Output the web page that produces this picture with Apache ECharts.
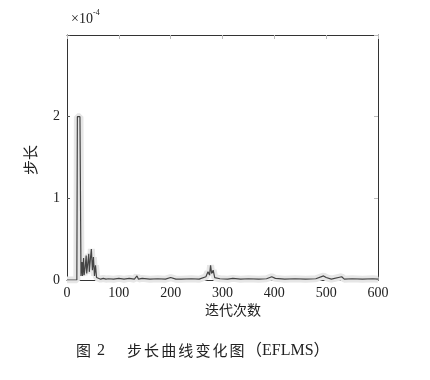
<!DOCTYPE html>
<html><head><meta charset="utf-8">
<script src="https://cdn.jsdelivr.net/npm/echarts@6/dist/echarts.min.js"></script>
<style>html,body{margin:0;padding:0;background:#fff}#c{width:430px;height:380px}</style>
</head><body><div id="c"></div>
<script>
// iteration numbers and step size (×10^-4)
const iterations = [0,19,20,22,25,26,27,29,30,32,33,35,37,38,40,42,43,45,47,49,51,53,55,57,60,65,70,75,80,90,100,110,120,130,135,138,145,160,175,190,200,210,220,240,255,268,272,275,277,279,282,285,295,310,320,335,350,370,385,395,398,402,420,440,460,480,495,500,510,530,535,550,570,590,600];
const stepSize = [0,0,2.0,1.98,2.0,2.0,0.05,0.22,0.05,0.27,0.06,0.15,0.3,0.08,0.2,0.32,0.1,0.25,0.38,0.12,0.28,0.05,0.18,0.03,0.05,0.01,0.02,0.01,0.015,0.01,0.02,0.01,0.02,0.01,0.05,0.01,0.02,0.01,0.015,0.01,0.03,0.01,0.01,0.015,0.01,0.04,0.1,0.06,0.18,0.08,0.12,0.03,0.015,0.01,0.02,0.01,0.015,0.01,0.015,0.04,0.06,0.02,0.01,0.015,0.01,0.015,0.05,0.03,0.01,0.04,0.01,0.015,0.01,0.015,0.01];
const xTicks = [0,100,200,300,400,500,600];
const yTickLabels = ['0','1','2'];

const pts = iterations.map((x,i)=>[x,stepSize[i]]);
const serif = '"Liberation Serif","DejaVu Serif","Noto Sans CJK SC",serif';
const cjk = '"Noto Sans CJK SC","Liberation Serif",serif';
const chart = echarts.init(document.getElementById('c'));

const caption = [];
caption.push({type:'text',left:76,top:343,style:{text:'图',font:'15px '+cjk,fill:'#222'}});
caption.push({type:'text',left:97,top:343,style:{text:'2',font:'16px '+serif,fill:'#222'}});
'步长曲线变化图'.split('').forEach((ch,i)=>{
  caption.push({type:'text',left:127+i*17.1,top:343,style:{text:ch,font:'15px '+cjk,fill:'#222'}});
});
caption.push({type:'text',left:246,top:343,style:{text:'（EFLMS）',font:'16px '+serif,fill:'#222'}});

const axLine = {show:true,onZero:false,lineStyle:{color:'#333',width:1}};
chart.setOption({
  animation:false,
  grid:{left:67,right:52,top:35,bottom:100},
  xAxis:[{type:'value',min:0,max:600,interval:100,
    axisLine:axLine,axisTick:{show:true,inside:true,length:3,lineStyle:{color:'#999'}},
    axisLabel:{color:'#222',fontFamily:serif,fontSize:14,margin:6,
      formatter:v=>xTicks.indexOf(v)>=0?String(v):''},
    splitLine:{show:false}},
   {type:'value',position:'top',min:0,max:600,interval:100,
    axisLine:axLine,axisTick:{show:true,inside:true,length:4,lineStyle:{color:'#bbb'}},
    axisLabel:{show:false},splitLine:{show:false}}],
  yAxis:[{type:'value',min:0,max:3,interval:1,
    axisLine:axLine,axisTick:{show:true,inside:true,length:3,lineStyle:{color:'#555'}},
    axisLabel:{color:'#222',fontFamily:serif,fontSize:14,margin:7,
      formatter:v=>yTickLabels[v]!==undefined?yTickLabels[v]:''},
    splitLine:{show:false}},
   {type:'value',position:'right',min:0,max:3,interval:1,
    axisLine:axLine,axisTick:{show:true,inside:true,length:4,lineStyle:{color:'#bbb'}},
    axisLabel:{show:false},splitLine:{show:false}}],
  series:[
    {type:'line',data:pts,showSymbol:false,silent:true,z:1,
     lineStyle:{color:'#e6e6e6',width:7}},
    {type:'line',data:pts,showSymbol:false,z:2,
     lineStyle:{color:'#444',width:1.2}}
  ],
  graphic:[
    {type:'text',left:71,top:12,style:{text:'×10',font:'14px '+serif,fill:'#222'}},
    {type:'text',left:93,top:9,style:{text:'-4',font:'8px '+serif,fill:'#222'}},
    {type:'text',x:30,y:160,rotation:Math.PI/2,style:{text:'步长',font:'15px '+cjk,fill:'#222',align:'center',verticalAlign:'middle'}},
    {type:'text',left:205,top:303,style:{text:'迭代次数',font:'14px '+cjk,fill:'#222'}}
  ].concat(caption)
});
</script></body></html>
